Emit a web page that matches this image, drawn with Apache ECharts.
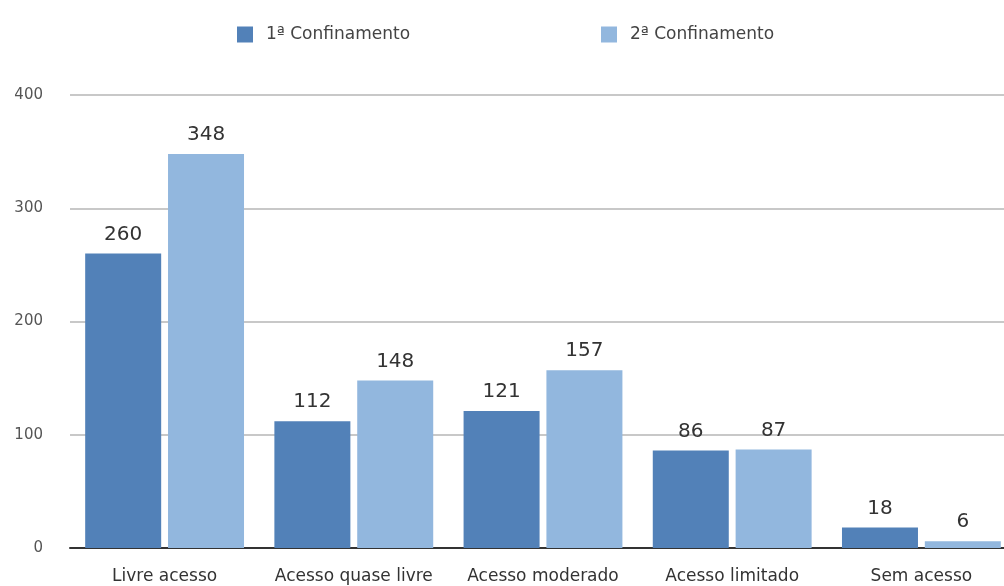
<!DOCTYPE html>
<html><head><meta charset="utf-8">
<script src="https://cdn.jsdelivr.net/npm/echarts@6/dist/echarts.min.js"></script>
<style>html,body{margin:0;padding:0;background:#fff}#c{width:1004px;height:586px}</style>
</head><body><div id="c"></div>
<script>
const categories = ['Livre acesso','Acesso quase livre','Acesso moderado','Acesso limitado','Sem acesso'];
const series1Name = '1ª Confinamento';
const series2Name = '2ª Confinamento';
const series1 = [260, 112, 121, 86, 18];
const series2 = [348, 148, 157, 87, 6];
const yTicks = [0, 100, 200, 300, 400];

const chart = echarts.init(document.getElementById('c'));
const font = '"DejaVu Sans", sans-serif';
const lbl = {show:true, position:'top', distance:9, fontSize:20, color:'#333', fontFamily:font};
const legText = {fontSize:17, color:'#444', fontFamily:font, padding:[0,0,0,8]};
chart.setOption({
  animation:false,
  textStyle:{fontFamily:font},
  legend:[
    {left:232, top:21, icon:'rect', itemWidth:16, itemHeight:16, textStyle:legText, data:[series1Name]},
    {left:596, top:21, icon:'rect', itemWidth:16, itemHeight:16, textStyle:legText, data:[series2Name]}
  ],
  grid:{left:70, top:95, bottom:38, right:-12, outerBoundsMode:'none', containLabel:false},
  xAxis:{type:'category', data:categories,
    axisLine:{lineStyle:{color:'#333', width:2}}, axisTick:{show:false},
    axisLabel:{margin:20, interval:0, fontSize:17, color:'#333', fontFamily:font}},
  yAxis:{type:'value', min:yTicks[0], max:yTicks[yTicks.length-1], interval:100,
    axisLine:{show:false}, axisTick:{show:false},
    splitLine:{lineStyle:{color:'#c8c8c8', width:2}},
    axisLabel:{margin:27, fontSize:15, color:'#555', fontFamily:font}},
  series:[
    {name:series1Name, type:'bar', data:series1, barWidth:76, barGap:'9%',
      itemStyle:{color:'#5281b8'}, label:lbl},
    {name:series2Name, type:'bar', data:series2, barWidth:76,
      itemStyle:{color:'#92b7de'}, label:lbl}
  ]
});
</script></body></html>
